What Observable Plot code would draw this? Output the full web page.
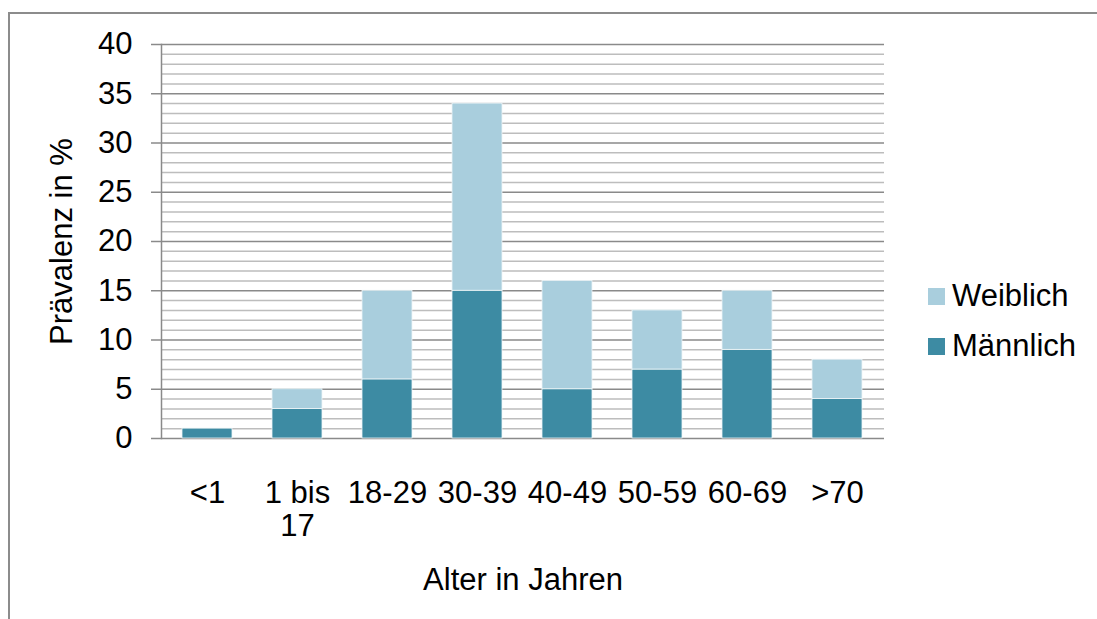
<!DOCTYPE html>
<html>
<head>
<meta charset="utf-8">
<script src="https://cdn.jsdelivr.net/npm/d3@7"></script>
<script src="https://cdn.jsdelivr.net/npm/@observablehq/plot@0.6"></script>
<style>
  body { margin: 0; background: #fff; font-family: "Liberation Sans", Arial, sans-serif; }
  #wrap { position: relative; width: 1097px; height: 619px; overflow: hidden; }
  #frame { position: absolute; left: 8px; top: 12px; width: 1200px; height: 700px;
           border-left: 2px solid #8c8c8c; border-top: 2px solid #8c8c8c; box-sizing: border-box; }
  #chart { position: absolute; left: 0; top: 0; }
  .legend { position: absolute; left: 928px; font-size: 31px; line-height: 36px; color: #000; display: flex; align-items: center; }
  .legend span.sw { display: inline-block; width: 17px; height: 17px; margin-right: 7px; }
</style>
</head>
<body>
<div id="wrap">
  <div id="frame"></div>
  <div id="chart"></div>
</div>
<script>
const categories = ["<1", "1 bis 17", "18-29", "30-39", "40-49", "50-59", "60-69", ">70"];
const tickLabels = ["<1", "1 bis\n17", "18-29", "30-39", "40-49", "50-59", "60-69", ">70"];
const maleValues = [1, 3, 6, 15, 5, 7, 9, 4];
const femaleValues = [0, 2, 9, 19, 11, 6, 6, 4];
const seriesNames = ["Männlich", "Weiblich"];
const seriesColors = ["#3d8ba3", "#a9cedd"];
const yTicks = [0, 5, 10, 15, 20, 25, 30, 35, 40];
const yLabel = "Prävalenz in %";
const xLabel = "Alter in Jahren";

const data = [];
categories.forEach((c, i) => {
  data.push({ age: c, sex: seriesNames[0], value: maleValues[i] });
  data.push({ age: c, sex: seriesNames[1], value: femaleValues[i] });
});

const gridValues = d3.range(0, 41);

const chart = Plot.plot({
  width: 1097,
  height: 619,
  marginLeft: 161,
  marginRight: 213,
  marginTop: 44,
  marginBottom: 181,
  style: { fontFamily: "'Liberation Sans', Arial, sans-serif", color: "#000", background: "transparent" },
  x: { domain: categories, paddingInner: 0.44, paddingOuter: 0.22, axis: null },
  y: { domain: [0, 40], axis: null },
  color: { domain: seriesNames, range: seriesColors },
  marks: [
    Plot.ruleY(gridValues.filter(d => d % 5 !== 0), { stroke: "#bdbdbd", strokeWidth: 1.5 }),
    Plot.ruleY(gridValues.filter(d => d % 5 === 0), { stroke: "#8a8a8a", strokeWidth: 1.5 }),
    Plot.barY(data, { x: "age", y: "value", fill: "sex", order: seriesNames, stroke: "#eef6f8", strokeWidth: 0.8 }),
    Plot.axisY({ ticks: yTicks, tickSize: 10, tickPadding: 19, fontSize: 31, label: null, stroke: "#8a8a8a", strokeWidth: 1.5, color: "#000" }),
    Plot.frame({ anchor: "left", stroke: "#8a8a8a", strokeWidth: 1.5 }),
    Plot.text(categories, { x: d => d, text: (d, i) => tickLabels[i], frameAnchor: "bottom", lineAnchor: "top", dy: 41, fontSize: 31, lineHeight: 1.07, fill: "#000" }),
    Plot.text([yLabel], { frameAnchor: "left", dx: -99, rotate: -90, textAnchor: "middle", lineAnchor: "middle", fontSize: 31, fill: "#000" }),
    Plot.text([xLabel], { frameAnchor: "bottom", dy: 142, textAnchor: "middle", lineAnchor: "middle", fontSize: 31, fill: "#000" })
  ]
});
document.getElementById("chart").appendChild(chart);

const wrap = document.getElementById("wrap");
[[seriesNames[1], seriesColors[1], 278], [seriesNames[0], seriesColors[0], 328]].forEach(([name, col, top]) => {
  const d = document.createElement("div");
  d.className = "legend";
  d.style.top = top + "px";
  d.innerHTML = `<span class="sw" style="background:${col}"></span><span>${name}</span>`;
  wrap.appendChild(d);
});
</script>
</body>
</html>
